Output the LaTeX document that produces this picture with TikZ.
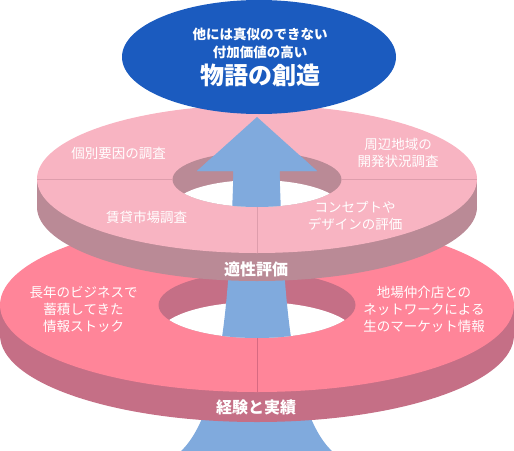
\documentclass[tikz,border=0pt]{standalone}
\usepackage{fontspec}
\usepackage{xcolor}
\usepackage{tikz}
\newfontfamily\jp{Noto Sans CJK JP}
\definecolor{goalblue}{HTML}{1B5BBF}
\definecolor{arrowblue}{HTML}{80AADD}
\definecolor{midtop}{HTML}{F8B4C2}
\definecolor{midside}{HTML}{BA8A96}
\definecolor{midline}{HTML}{DE9DAC}
\definecolor{lowtop}{HTML}{FF8599}
\definecolor{lowside}{HTML}{C56F86}
\definecolor{lowline}{HTML}{D76A82}
\newcommand{\arrowshape}{(257,117) -- (317,171) -- (279.5,171)
  .. controls (283.5,300) and (291.5,420) .. (336.5,455) -- (176.5,455)
  .. controls (221.5,420) and (229.5,300) .. (233.5,171) -- (197,171) -- cycle}

\begin{document}
\begin{tikzpicture}[x=1pt, y=-1pt, line join=round,
  ringtext/.style={text=white, font=\jp\fontsize{13.5}{17}\selectfont, align=center, inner sep=0pt},
  bandtext/.style={text=white, font=\jp\bfseries\fontsize{16}{18}\selectfont, inner sep=0pt}]
  \useasboundingbox (0,0) rectangle (514,450);
  % arrow foot below the rings
  \fill[arrowblue] \arrowshape;
  % lower ring
  \fill[lowside] (0,305) rectangle (514,335);
  \fill[lowside] (257,335) ellipse [x radius=257pt, y radius=87pt];
  \fill[lowtop] (257,305) ellipse [x radius=257pt, y radius=87pt];
  \fill[lowside] (257,305) ellipse [x radius=98.5pt, y radius=33pt];
  \begin{scope}
    \clip (257,305) ellipse [x radius=98.5pt, y radius=33pt];
    \fill[white] (257,335) ellipse [x radius=98.5pt, y radius=33pt];
    \fill[arrowblue] \arrowshape;
  \end{scope}
  \draw[lowline, thin] (257,338) -- (257,392);
  % middle ring
  \fill[midside] (37,179) rectangle (477,207);
  \fill[midside] (257,207) ellipse [x radius=220pt, y radius=74pt];
  \fill[midtop] (257,179) ellipse [x radius=220pt, y radius=74pt];
  \fill[midside] (257,179.5) ellipse [x radius=84.5pt, y radius=27.5pt];
  \begin{scope}
    \clip (257,179.5) ellipse [x radius=84.5pt, y radius=27.5pt];
    \fill[white] (257,207.5) ellipse [x radius=84.5pt, y radius=27.5pt];
    \fill[arrowblue] \arrowshape;
  \end{scope}
  \begin{scope}
    \clip (0,0) rectangle (514,179.5);
    \fill[arrowblue] \arrowshape;
  \end{scope}
  \draw[midline, thin] (37,179) -- (172.5,179);
  \draw[midline, thin] (341.5,179) -- (477,179);
  \draw[midline, thin] (257,207) -- (257,253);
  % goal
  \fill[goalblue] (259,57) ellipse [x radius=137pt, y radius=57pt];
  \node[text=white, font=\jp\bfseries\fontsize{13.5}{18}\selectfont, align=center, inner sep=0pt]
    (goalsub) at (260,43) {他には真似のできない\\付加価値の高い};
  \node[text=white, font=\jp\bfseries\fontsize{24}{26}\selectfont, inner sep=0pt]
    (goal) at (260,75) {物語の創造};
  % middle ring labels
  \node[ringtext] (survey) at (118.5,153) {個別要因の調査};
  \node[ringtext] (area) at (398,152.5) {周辺地域の\\開発状況調査};
  \node[ringtext] (market) at (146.5,217) {賃貸市場調査};
  \node[ringtext] (concept) at (355,216) {コンセプトや\\デザインの評価};
  \node[bandtext] (fit) at (256,269) {適性評価};
  % lower ring labels
  \node[ringtext] (stock) at (83.5,309.5) {長年のビジネスで\\蓄積してきた\\情報ストック};
  \node[ringtext] (network) at (424,309.5) {地場仲介店との\\ネットワークによる\\生のマーケット情報};
  \node[bandtext] (record) at (256,407) {経験と実績};
\end{tikzpicture}
\end{document}
